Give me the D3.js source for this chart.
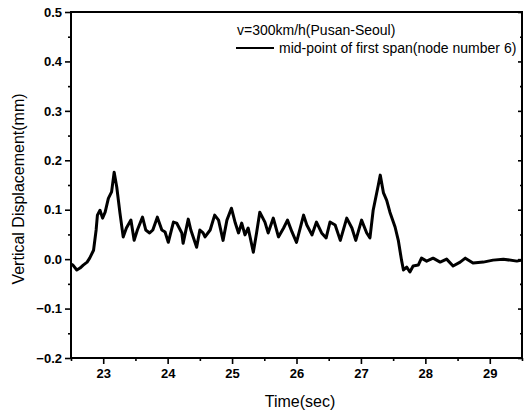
<!DOCTYPE html>
<html><head><meta charset="utf-8">
<script src="https://cdn.jsdelivr.net/npm/d3@7"></script>
<style>body{margin:0;background:#fff}svg{display:block}text{font-family:"Liberation Sans",Arial,sans-serif;fill:#000}</style>
</head><body><svg id="c" width="527" height="416"></svg>
<script>
const times = [22.50,22.53,22.59,22.64,22.69,22.75,22.79,22.85,22.89,22.91,22.95,22.99,23.03,23.08,23.13,23.17,23.21,23.26,23.31,23.36,23.43,23.48,23.53,23.61,23.66,23.72,23.77,23.84,23.91,23.96,24.01,24.09,24.14,24.22,24.24,24.32,24.36,24.45,24.50,24.55,24.58,24.66,24.73,24.79,24.86,24.92,24.99,25.05,25.10,25.15,25.20,25.25,25.33,25.38,25.43,25.51,25.56,25.64,25.72,25.80,25.86,25.93,26.00,26.11,26.16,26.24,26.31,26.39,26.46,26.52,26.60,26.68,26.78,26.86,26.92,27.01,27.09,27.14,27.19,27.27,27.30,27.35,27.40,27.45,27.53,27.58,27.63,27.66,27.71,27.76,27.81,27.89,27.94,28.02,28.12,28.23,28.33,28.43,28.54,28.62,28.74,28.90,29.05,29.21,29.42,29.50];
const displacement = [-0.010,-0.012,-0.022,-0.018,-0.012,-0.006,0.002,0.018,0.059,0.089,0.099,0.083,0.095,0.123,0.136,0.176,0.146,0.093,0.045,0.063,0.079,0.038,0.059,0.085,0.059,0.053,0.059,0.085,0.059,0.055,0.034,0.075,0.073,0.053,0.032,0.081,0.059,0.024,0.059,0.053,0.045,0.059,0.089,0.079,0.038,0.079,0.103,0.073,0.053,0.073,0.049,0.063,0.014,0.053,0.095,0.075,0.053,0.083,0.045,0.063,0.079,0.055,0.034,0.089,0.069,0.049,0.075,0.053,0.043,0.075,0.069,0.038,0.083,0.063,0.038,0.079,0.053,0.043,0.099,0.150,0.170,0.134,0.119,0.095,0.065,0.038,-0.002,-0.022,-0.016,-0.026,-0.014,-0.012,0.002,-0.004,0.002,-0.006,0.000,-0.014,-0.006,0.002,-0.008,-0.006,-0.002,0.000,-0.004,-0.002];
const xTicks = [23,24,25,26,27,28,29];
const yTicks = [-0.2,-0.1,0.0,0.1,0.2,0.3,0.4,0.5];
const legendLines = ["v=300km/h(Pusan-Seoul)","mid-point of first span(node number 6)"];
const xTitle = "Time(sec)", yTitle = "Vertical Displacement(mm)";

const svg = d3.select("#c");
const L=71,R=522,T=12,B=358;
const x = d3.scaleLinear().domain([22.5,29.5]).range([L,R]);
const y = d3.scaleLinear().domain([-0.2,0.5]).range([B,T]);
const xMinor = d3.range(22.5,29.51,0.5).filter(v=>!xTicks.some(t=>Math.abs(t-v)<1e-6));
const yMinor = d3.range(-0.15,0.5,0.1);

svg.append("rect").attr("x",L).attr("y",T).attr("width",R-L).attr("height",B-T).attr("fill","none").attr("stroke","#000").attr("stroke-width",2);

const gx = svg.append("g").attr("transform",`translate(0,${B})`);
gx.call(d3.axisBottom(x).tickValues(xTicks).tickFormat(d3.format("d")).tickSize(6).tickPadding(5));
gx.append("g").call(d3.axisBottom(x).tickValues(xMinor).tickFormat("").tickSize(3));
const gy = svg.append("g").attr("transform",`translate(${L},0)`);
gy.call(d3.axisLeft(y).tickValues(yTicks).tickFormat(d3.format(".1f")).tickSize(6).tickPadding(3));
gy.append("g").call(d3.axisLeft(y).tickValues(yMinor).tickFormat("").tickSize(3));
const gr = svg.append("g").attr("transform",`translate(${R},0)`);
gr.call(d3.axisLeft(y).tickValues(yTicks).tickFormat("").tickSize(4));
gr.append("g").call(d3.axisLeft(y).tickValues(yMinor).tickFormat("").tickSize(2));
svg.selectAll(".domain").remove();
svg.selectAll(".tick line").attr("stroke","#000").attr("stroke-width",1.6);
svg.selectAll(".tick text").style("font-size","13px").style("font-weight","bold").style("font-family","Liberation Sans, Arial, sans-serif");

const pts = times.map((t,i)=>[t,displacement[i]]);
svg.append("path").datum(pts).attr("fill","none").attr("stroke","#000").attr("stroke-width",3).attr("stroke-linejoin","round")
  .attr("d",d3.line().x(d=>x(d[0])).y(d=>y(d[1])));

svg.append("text").attr("x",300).attr("y",407).attr("text-anchor","middle").style("font-size","16px").text(xTitle);
svg.append("text").attr("transform",`translate(24,${(T+B)/2+4}) rotate(-90)`).attr("text-anchor","middle").style("font-size","16px").text(yTitle);

svg.append("text").attr("x",237).attr("y",35).style("font-size","14px").text(legendLines[0]);
svg.append("line").attr("x1",236).attr("x2",274).attr("y1",48).attr("y2",48).attr("stroke","#000").attr("stroke-width",2.2);
svg.append("text").attr("x",279).attr("y",53).style("font-size","14px").text(legendLines[1]);
</script></body></html>
